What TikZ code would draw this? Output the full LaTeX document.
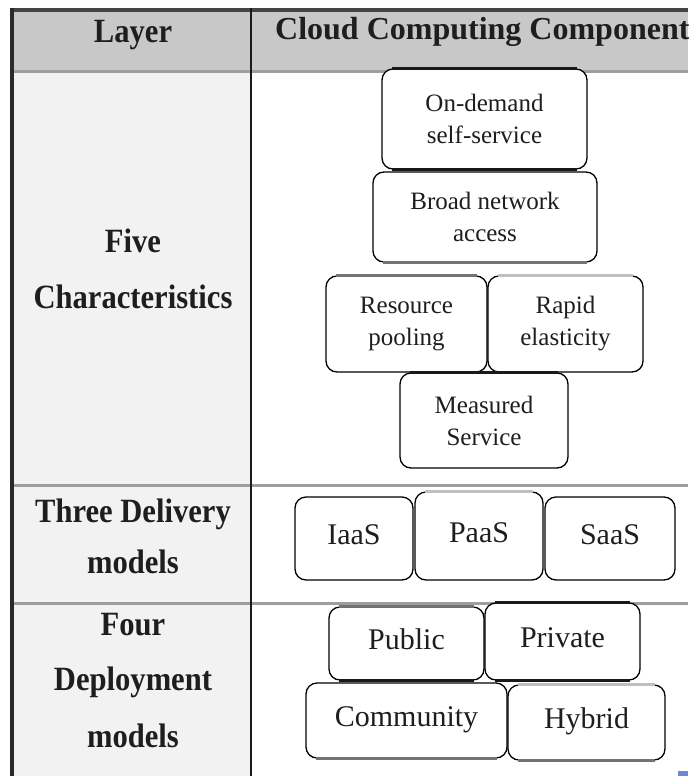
\documentclass[tikz,border=0pt]{standalone}
\usepackage{fontspec}
\setmainfont{Liberation Serif}
\newfontfamily\hdfont[FakeStretch=0.9]{Liberation Serif}
\definecolor{hdr}{HTML}{C8C8C8}
\definecolor{leftc}{HTML}{F2F2F2}
\definecolor{rulec}{HTML}{9E9E9E}
\definecolor{topc}{HTML}{444444}
\definecolor{darkc}{HTML}{2A2A2A}
\definecolor{bluemark}{HTML}{7088D0}
\definecolor{txtc}{HTML}{1E1E1E}
\tikzset{
  cbox/.style={draw=black, line width=1.3pt, rounded corners=11pt, fill=white,
    inner sep=2pt, align=center, text=txtc},
  rowone/.style={cbox, font=\fontsize{25}{32}\selectfont},
  rowtwo/.style={cbox, font=\fontsize{30}{36}\selectfont, text height=20pt, text depth=8pt},
  lab/.style={font=\hdfont\bfseries\fontsize{34}{40}\selectfont, anchor=base, inner sep=0pt, text=txtc},
  headlab/.style={font=\bfseries\fontsize{32}{38}\selectfont, anchor=base west, inner sep=0pt, text=txtc},
  accdark/.style={line width=3pt, draw=black!90},
  accgray/.style={line width=3pt, draw=black!55},
  acclight/.style={line width=3.5pt, draw=black!25},
}
\begin{document}
\begin{tikzpicture}[x=1pt,y=-1pt]
\clip (0,0) rectangle (688,776);
\fill[white] (0,0) rectangle (688,776);
% table background
\fill[hdr] (13,10) rectangle (688,71);
\fill[leftc] (13,72) rectangle (251,776);
% table rules
\draw[line width=4pt, topc] (11,10) -- (688,10);
\draw[line width=3pt, rulec] (13,71.5) -- (688,71.5);
\draw[line width=3pt, rulec] (13,485) -- (688,485);
\draw[line width=3pt, rulec] (13,603) -- (688,603);
\draw[line width=3.5pt, darkc] (12,8) -- (12,776);
\draw[line width=2.2pt, black!90] (251,8) -- (251,776);
% header
\node[lab] (hlayer) at (133,43) {Layer};
\node[headlab] (hcomp) at (275,40) {Cloud Computing Components};
% left labels
\node[lab] (five1) at (133,252) {Five};
\node[lab] (five2) at (133,308) {Characteristics};
\node[lab] (three1) at (133,522) {Three Delivery};
\node[lab] (three2) at (133,573) {models};
\node[lab] (four1) at (133,635) {Four};
\node[lab] (four2) at (133,690) {Deployment};
\node[lab] (four3) at (133,747) {models};
% five characteristics
\node[rowone, minimum width=205pt, minimum height=100pt] (ondemand) at (484.5,119) {On-demand\\self-service};
\node[rowone, minimum width=224pt, minimum height=90pt] (broad) at (485,217) {Broad network\\access};
\node[rowone, minimum width=161pt, minimum height=96pt] (resource) at (406.5,324) {Resource\\pooling};
\node[rowone, minimum width=155pt, minimum height=96pt] (rapid) at (565.5,324) {Rapid\\elasticity};
\node[rowone, minimum width=168pt, minimum height=95pt] (measured) at (484,420.5) {Measured\\Service};
% delivery models
\node[rowtwo, minimum width=118pt, minimum height=83pt] (iaas) at (354,538.5) {IaaS};
\node[rowtwo, minimum width=128pt, minimum height=88pt] (paas) at (479,536) {PaaS};
\node[rowtwo, minimum width=130pt, minimum height=83pt] (saas) at (610,538.5) {SaaS};
% deployment models
\node[rowtwo, minimum width=155pt, minimum height=73pt] (public) at (406.5,643.5) {Public};
\node[rowtwo, minimum width=155pt, minimum height=77pt] (private) at (562.5,641.5) {Private};
\node[rowtwo, minimum width=201pt, minimum height=75pt] (community) at (406.5,720.5) {Community};
\node[rowtwo, minimum width=157pt, minimum height=75pt] (hybrid) at (586.5,722.5) {Hybrid};
% edge accents of the boxes
\draw[accdark] ([xshift=11pt]ondemand.north west) -- ([xshift=-11pt]ondemand.north east);
\draw[accdark] ([xshift=11pt]ondemand.south west) -- ([xshift=-11pt]ondemand.south east);
\draw[accgray] ([xshift=11pt]broad.south west) -- ([xshift=-11pt]broad.south east);
\draw[accgray] ([xshift=11pt]resource.north west) -- ([xshift=-11pt]resource.north east);
\draw[acclight] ([xshift=11pt]rapid.north west) -- ([xshift=-11pt]rapid.north east);
\draw[accdark] ([xshift=11pt]measured.north west) -- ([xshift=-11pt]measured.north east);
\draw[acclight] ([xshift=11pt]paas.north west) -- ([xshift=-11pt]paas.north east);
\draw[accgray] ([xshift=11pt]public.north west) -- ([xshift=-11pt]public.north east);
\draw[accdark] ([xshift=11pt]public.south west) -- ([xshift=-11pt]public.south east);
\draw[accdark] ([xshift=11pt]private.north west) -- ([xshift=-11pt]private.north east);
\draw[accdark] ([xshift=11pt]private.south west) -- ([xshift=-11pt]private.south east);
\draw[acclight] ([xshift=11pt]hybrid.north west) -- ([xshift=-11pt]hybrid.north east);
\draw[accgray] ([xshift=11pt]community.south west) -- ([xshift=-11pt]community.south east);
\draw[accgray] ([xshift=11pt]hybrid.south west) -- ([xshift=-11pt]hybrid.south east);
% small mark at the corner
\fill[bluemark] (678,771) rectangle (688,776);
\end{tikzpicture}
\end{document}
